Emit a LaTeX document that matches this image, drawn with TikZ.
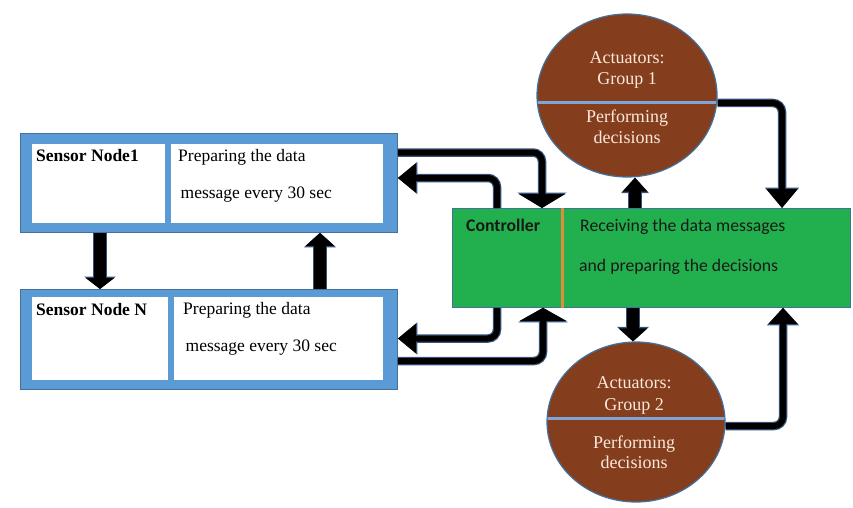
\documentclass[tikz,border=0pt]{standalone}
\usepackage{fontspec}
\setmainfont{Liberation Serif}
\newfontfamily\calfont{Carlito}
\usetikzlibrary{arrows.meta,shapes.geometric}
\definecolor{frameblue}{HTML}{5B9BD5}
\definecolor{frameedge}{HTML}{41719C}
\definecolor{ctrlgreen}{HTML}{22AF4D}
\definecolor{actbrown}{HTML}{843E1E}
\definecolor{acttext}{HTML}{FBE8DA}
\definecolor{divorange}{HTML}{DD8D3D}
\definecolor{divblue}{HTML}{7FA6D6}
\definecolor{connedge}{HTML}{34527A}
\newcommand\myconn[5]{%
  \draw[connout,-{Triangle[width=#4,length=#5]}] #1;
  \draw[connin,-{Triangle[width=#2,length=#3]}] #1;}
\newcommand\myblock[5]{%
  \draw[blockout,-{Triangle[width=#4,length=#5]}] #1;
  \draw[blockin,-{Triangle[width=#2,length=#3]}] #1;}
\begin{document}
\begin{tikzpicture}[x=1pt,y=-1pt,
  frame/.style={rectangle,fill=frameblue,draw=frameedge,line width=0.8pt,inner sep=0pt,anchor=north west},
  panel/.style={rectangle,fill=white,inner sep=0pt,anchor=north west},
  ctrlbox/.style={rectangle,fill=ctrlgreen,draw=frameedge,line width=0.8pt,inner sep=0pt,anchor=north west},
  act/.style={ellipse,fill=actbrown,draw=frameedge,line width=1.2pt,inner sep=0pt},
  stext/.style={font=\fontsize{17.5}{20}\selectfont,anchor=base west,inner sep=0pt},
  sbold/.style={stext,font=\fontsize{17.5}{20}\selectfont\bfseries},
  ctext/.style={font=\calfont\fontsize{17.7}{20}\selectfont,anchor=base west,inner sep=0pt,text=black!90},
  cbold/.style={ctext,font=\calfont\fontsize{17.7}{20}\selectfont\bfseries},
  atext/.style={font=\fontsize{18}{20}\selectfont,anchor=base,inner sep=0pt,text=acttext},
  connout/.style={draw=connedge,line width=8.5pt,rounded corners=9pt},
  connin/.style={draw=black,line width=6pt,rounded corners=9pt},
  blockout/.style={draw=connedge,line width=14pt},
  blockin/.style={draw=black,line width=12pt},
  divline/.style={draw=divblue,line width=3pt}
]
\useasboundingbox (0,0) rectangle (853,508);

% Sensor Node 1
\node[frame,minimum width=377pt,minimum height=99pt] (s1) at (20,133) {};
\node[panel,minimum width=133pt,minimum height=79pt] (s1l) at (32,144) {};
\node[panel,minimum width=212pt,minimum height=79pt] (s1r) at (171,144) {};
\node[sbold] (s1t) at (36,161) {Sensor Node1};
\node[stext] (s1a) at (178,161) {Preparing the data};
\node[stext] (s1b) at (180.5,198) {message every 30 sec};

% Sensor Node N
\node[frame,minimum width=377pt,minimum height=100pt] (sN) at (20,289) {};
\node[panel,minimum width=136pt,minimum height=83pt] (sNl) at (32,297) {};
\node[panel,minimum width=209pt,minimum height=83pt] (sNr) at (174,297) {};
\node[sbold] (sNt) at (36,315) {Sensor Node N};
\node[stext] (sNa) at (183,314) {Preparing the data};
\node[stext] (sNb) at (185.5,351.5) {message every 30 sec};

% Controller
\node[ctrlbox,minimum width=398pt,minimum height=99pt] (ctrl) at (452,208) {};
\draw[draw=divorange,line width=3pt] (ctrl.north -| 562,0) -- (ctrl.south -| 562,0);
\node[cbold] (ct) at (466,231.7) {Controller};
\node[ctext] (ca) at (580,231.7) {Receiving the data messages};
\node[ctext] (cb) at (579,271.7) {and preparing the decisions};

% Actuators
\node[act,minimum width=180pt,minimum height=163pt] (a1) at (627,95.5) {};
\begin{scope}
  \clip (627,95.5) ellipse [x radius=89.4pt, y radius=80.9pt];
  \draw[divline] (530,103) -- (725,103);
\end{scope}
\node[atext] (a1a) at (627,63.3) {Actuators:};
\node[atext] (a1b) at (627,85) {Group 1};
\node[atext] (a1c) at (627,123) {Performing};
\node[atext] (a1d) at (627,143) {decisions};

\node[act,minimum width=178pt,minimum height=160pt] (a2) at (636,422) {};
\begin{scope}
  \clip (636,422) ellipse [x radius=88.4pt, y radius=79.4pt];
  \draw[divline] (540,418) -- (735,418);
\end{scope}
\node[atext] (a2a) at (634,388.3) {Actuators:};
\node[atext] (a2b) at (634,410) {Group 2};
\node[atext] (a2c) at (634,448.3) {Performing};
\node[atext] (a2d) at (634,468.3) {decisions};

% Block arrows between sensor nodes
\myblock{(s1.south -| 100,0) -- (sN.north -| 100,0)}{28pt}{11pt}{31pt}{12.5pt}
\myblock{(sN.north -| 320,0) -- (s1.south -| 320,0)}{28pt}{13pt}{31pt}{14.5pt}

% Sensor <-> controller connectors
\myconn{(s1.east |- 0,152.5) -| (ctrl.north -| 542,0)}{46pt}{14pt}{49pt}{15.5pt}
\myconn{(ctrl.north -| 497,0) |- (s1.east |- 0,178)}{28pt}{18pt}{31pt}{19.5pt}
\myconn{(ctrl.south -| 497,0) |- (sN.east |- 0,338.5)}{28pt}{18pt}{31pt}{19.5pt}
\myconn{(sN.east |- 0,361) -| (ctrl.south -| 543,0)}{46pt}{13pt}{49pt}{14.5pt}

% Controller <-> actuators
\myblock{(ctrl.north -| 635,0) -- (a1.south -| 635,0)}{24pt}{14pt}{27pt}{15.5pt}
\myblock{(ctrl.south -| 633,0) -- (a2.north -| 633,0)}{28pt}{13pt}{31pt}{14.5pt}
\myconn{(a1.east |- 0,103) -| (ctrl.north -| 782,0)}{30pt}{19pt}{33pt}{20.5pt}
\myconn{(a2.east |- 0,426) -| (ctrl.south -| 783,0)}{28pt}{16pt}{31pt}{17.5pt}
\end{tikzpicture}
\end{document}
